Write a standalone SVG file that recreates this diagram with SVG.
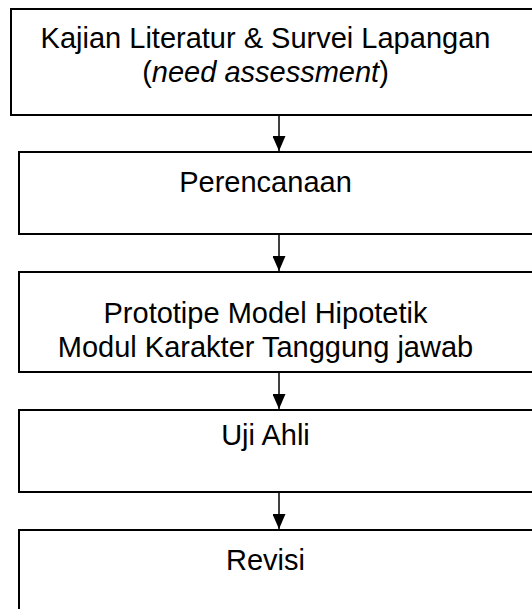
<svg xmlns="http://www.w3.org/2000/svg" width="532" height="609" viewBox="0 0 532 609">
<style>
.box{fill:#fff;stroke:#000;stroke-width:2}
.t{font-family:"Liberation Sans",Arial,sans-serif;font-size:29px;fill:#000;text-anchor:middle}
.c{stroke:#000;stroke-width:1.5;fill:none}
</style>
<defs>
<marker id="ah" markerWidth="15" markerHeight="13" refX="15" refY="6.5" orient="auto" markerUnits="userSpaceOnUse" viewBox="0 0 15 13">
<path d="M0,0 L15,6.5 L0,13 Z" fill="#000"/>
</marker>
</defs>
<rect width="532" height="609" fill="#fff"/>
<g id="n1"><rect class="box" x="11" y="9" width="540" height="106"/>
<text class="t" x="265.5" y="48">Kajian Literatur &amp; Survei Lapangan</text>
<text class="t" x="265.5" y="82">(<tspan font-style="italic">need assessment</tspan>)</text></g>
<g id="n2"><rect class="box" x="19" y="152" width="540" height="82"/>
<text class="t" x="265.5" y="192">Perencanaan</text></g>
<g id="n3"><rect class="box" x="19" y="272" width="540" height="100"/>
<text class="t" x="265.5" y="323">Prototipe Model Hipotetik</text>
<text class="t" x="265.5" y="357">Modul Karakter Tanggung jawab</text></g>
<g id="n4"><rect class="box" x="19" y="410" width="540" height="82"/>
<text class="t" x="265.5" y="445">Uji Ahli</text></g>
<g id="n5"><rect class="box" x="19" y="530" width="540" height="100"/>
<text class="t" x="265.5" y="570">Revisi</text></g>
<g id="connectors">
<path class="c" d="M279,116 V151" marker-end="url(#ah)"/>
<path class="c" d="M279,235 V271" marker-end="url(#ah)"/>
<path class="c" d="M279,373 V409" marker-end="url(#ah)"/>
<path class="c" d="M279,493 V529" marker-end="url(#ah)"/>
</g>
</svg>
